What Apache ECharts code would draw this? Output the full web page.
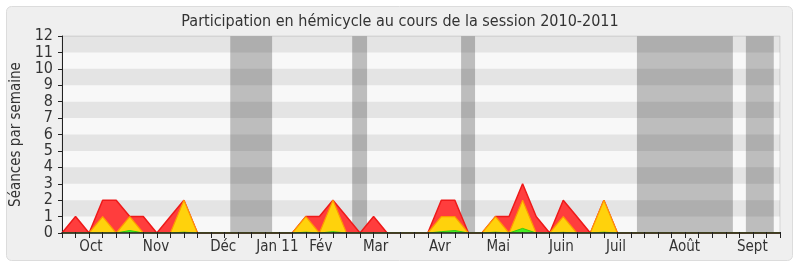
<!DOCTYPE html>
<html>
<head>
<meta charset="utf-8">
<script src="https://cdn.jsdelivr.net/npm/echarts@6/dist/echarts.min.js"></script>
<style>
html,body{margin:0;padding:0;background:#ffffff;}
#chart{width:800px;height:267px;}
</style>
</head>
<body>
<div id="chart"></div>
<script>
// Weekly points (index 0..53)
const presences =      [0,1,0,2,2,1,1,0,1,2,0,0,0,0,0,0,0,0,1,1,2,1,0,1,0,0,0,0,2,2,0,0,1,1,3,1,0,2,1,0,2,0,0,0,0,0,0,0,0,0,0,0,0,0];
const participations = [0,0,0,1,0,1,0,0,0,2,0,0,0,0,0,0,0,0,1,0,2,0,0,0,0,0,0,0,1,1,0,0,1,0,2,0,0,1,0,0,2,0,0,0,0,0,0,0,0,0,0,0,0,0];
const questions =      [0,0,0,0,0,0.15,0,0,0,0.05,0,0,0,0,0,0,0,0,0.05,0,0.08,0,0,0,0,0,0,0,0.08,0.15,0,0,0.05,0,0.28,0,0,0.04,0,0,0.05,0,0,0,0,0,0,0,0,0,0,0,0,0];
// Month labels and their position on the week axis
const monthLabels = ['Oct','Nov','Déc','Jan 11','Fév','Mar','Avr','Mai','Juin','Juil','Août','Sept'];
const monthPos =    [2.14, 6.94, 11.9, 15.9, 19.1, 23.15, 27.9, 32.2, 36.87, 40.9, 45.96, 50.96];
// Vacation periods (week index start/end)
const vacStart = [12.42, 21.42, 29.46, 42.44, 50.48];
const vacEnd =   [15.51, 22.52, 30.49, 49.52, 52.54];
const yTicks = [0,1,2,3,4,5,6,7,8,9,10,11,12];

const FONT = '"DejaVu Sans Condensed", "DejaVu Sans"';
const weekTicks = presences.map((_, i) => i);
const toPairs = arr => arr.map((v, i) => [i, v]);

const chart = echarts.init(document.getElementById('chart'), null, {renderer: 'canvas'});
chart.setOption({
  animation: false,
  backgroundColor: '#ffffff',
  textStyle: {fontFamily: FONT},
  graphic: [{
    type: 'rect', z: -10, silent: true,
    shape: {x: 6.5, y: 6.5, width: 786, height: 254, r: 5},
    style: {fill: '#efefef', stroke: '#dcdcdc', lineWidth: 1}
  }],
  title: {
    text: 'Participation en hémicycle au cours de la session 2010-2011',
    left: 'center', top: 9,
    textStyle: {fontFamily: FONT, fontSize: 16, fontWeight: 'normal', color: '#333'}
  },
  grid: {
    left: 62, right: 20, top: 36, bottom: 34,
    outerBoundsMode: 'none', containLabel: false,
    show: true, backgroundColor: '#f8f8f8', borderColor: '#d6d6d6', borderWidth: 1
  },
  xAxis: [{
    type: 'value', min: 0, max: 53, interval: 1, z: 10,
    axisLine: {show: true, onZero: false, lineStyle: {color: '#222', width: 1.5}},
    axisTick: {show: true, length: 5, customValues: weekTicks, lineStyle: {color: '#222'}},
    axisLabel: {
      show: true, customValues: monthPos, margin: 7,
      fontFamily: FONT, fontSize: 15, color: '#333',
      formatter: v => {
        let best = 0;
        monthPos.forEach((p, i) => { if (Math.abs(p - v) < Math.abs(monthPos[best] - v)) best = i; });
        return monthLabels[best];
      }
    },
    splitLine: {show: false}
  }, {
    type: 'value', min: 0, max: 53, interval: 1, position: 'top', z: 10,
    axisLine: {show: false},
    axisTick: {show: true, length: 1, customValues: weekTicks, lineStyle: {color: '#222'}},
    axisLabel: {show: false},
    splitLine: {show: false}
  }],
  yAxis: {
    type: 'value', min: 0, max: 12, interval: 1, z: 2,
    name: 'Séances par semaine', nameLocation: 'middle', nameRotate: 90, nameGap: 36,
    nameTextStyle: {fontFamily: FONT, fontSize: 15, color: '#333'},
    axisLine: {show: true, lineStyle: {color: '#222', width: 1}},
    axisTick: {show: true, length: 4, lineStyle: {color: '#222'}},
    axisLabel: {fontFamily: FONT, fontSize: 16, color: '#333', margin: 9,
      formatter: v => yTicks.indexOf(v) >= 0 ? String(v) : ''},
    splitLine: {show: false},
    splitArea: {show: true, areaStyle: {color: ['rgba(0,0,0,0)', 'rgba(0,0,0,0.077)']}}
  },
  series: [{
    type: 'line', data: [], z: 1, silent: true,
    markArea: {
      silent: true,
      itemStyle: {color: '#bdbdbd'},
      data: vacStart.map((s, i) => [{xAxis: s}, {xAxis: vacEnd[i]}])
    }
  }, {
    name: 'Présences', type: 'line', z: 3, symbol: 'none',
    data: toPairs(presences),
    lineStyle: {color: '#ee1a1a', width: 1.5},
    areaStyle: {color: '#ff3d3d', opacity: 1}
  }, {
    name: 'Participations', type: 'line', z: 4, symbol: 'none',
    data: toPairs(participations),
    lineStyle: {color: '#ff9a00', width: 1.2},
    areaStyle: {color: '#ffd20c', opacity: 1}
  }, {
    name: 'Questions', type: 'line', z: 5, symbol: 'none',
    data: toPairs(questions),
    lineStyle: {color: '#33cc11', width: 1},
    areaStyle: {color: '#44ee22', opacity: 1}
  }]
});
</script>
</body>
</html>
